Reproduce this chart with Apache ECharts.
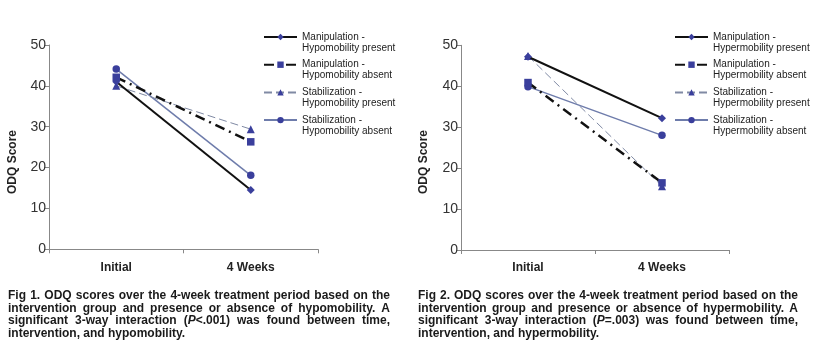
<!DOCTYPE html>
<html>
<head>
<meta charset="utf-8">
<script src="https://cdn.jsdelivr.net/npm/echarts@6/dist/echarts.min.js"></script>
<style>
html,body{margin:0;padding:0;background:#fff;}
#c{width:820px;height:351px;}
</style>
</head>
<body>
<div id="c"></div>
<script>
// ---------- data ----------
const categories = ['Initial', '4 Weeks'];
const yTicks = [0, 10, 20, 30, 40, 50];

const fig1Names = ['Manipulation -\nHypomobility present', 'Manipulation -\nHypomobility absent',
                   'Stabilization -\nHypomobility present', 'Stabilization -\nHypomobility absent'];
const fig1ManipPresent = [41.0, 14.5];
const fig1ManipAbsent  = [42.1, 26.3];
const fig1StabPresent  = [40.0, 29.4];
const fig1StabAbsent   = [44.1, 18.1];

const fig2Names = ['Manipulation -\nHypermobility present', 'Manipulation -\nHypermobility absent',
                   'Stabilization -\nHypermobility present', 'Stabilization -\nHypermobility absent'];
const fig2ManipPresent = [47.2, 32.2];
const fig2ManipAbsent  = [40.9, 16.4];
const fig2StabPresent  = [47.4, 15.6];
const fig2StabAbsent   = [39.9, 28.0];

const yAxisTitle = 'ODQ Score';

const caption1 = [
  'Fig 1. ODQ scores over the 4-week treatment period based on the',
  'intervention group and presence or absence of hypomobility. A',
  'significant 3-way interaction (*P*<.001) was found between time,',
  'intervention, and hypomobility.'
];
const caption2 = [
  'Fig 2. ODQ scores over the 4-week treatment period based on the',
  'intervention group and presence or absence of hypermobility. A',
  'significant 3-way interaction (*P*=.003) was found between time,',
  'intervention, and hypermobility.'
];

// ---------- styles ----------
const markerColor = '#3a3f9c';
const styles = [
  {symbol: 'diamond',  symbolSize: 8, line: {color: '#111', width: 2, type: 'solid'}},
  {symbol: 'rect',     symbolSize: 7.5, line: {color: '#111', width: 2.5, type: [10, 5, 2, 5]}},
  {symbol: 'triangle', symbolSize: 8, line: {color: '#808aa4', width: 1, type: [8, 4]}},
  {symbol: 'circle',   symbolSize: 7.5, line: {color: '#6e7cab', width: 1.5, type: 'solid'}}
];

function makeSeries(names, arrays, idx) {
  return arrays.map((d, i) => ({
    type: 'line', name: names[i], data: d,
    xAxisIndex: idx, yAxisIndex: idx,
    symbol: styles[i].symbol, symbolSize: styles[i].symbolSize,
    itemStyle: {color: markerColor},
    lineStyle: styles[i].line,
    z: 10 - i,
    animation: false
  }));
}

function xAxis(idx) {
  return {
    type: 'category', data: categories, gridIndex: idx,
    axisLine: {lineStyle: {color: '#888', width: 1}},
    axisTick: {show: true, length: 4, lineStyle: {color: '#888'}},
    axisLabel: {fontFamily: 'Liberation Sans', fontWeight: 'bold', fontSize: 12, color: '#222', margin: 12},
    splitLine: {show: false}
  };
}
function yAxis(idx) {
  return {
    type: 'value', min: yTicks[0], max: yTicks[yTicks.length - 1], interval: 10, gridIndex: idx,
    axisLine: {show: true, lineStyle: {color: '#888', width: 1}},
    axisTick: {show: true, length: 5, lineStyle: {color: '#888'}},
    axisLabel: {fontFamily: 'Liberation Sans', fontSize: 14, color: '#333', margin: 3},
    splitLine: {show: false}
  };
}
function legend(names, left) {
  return {
    data: names, orient: 'vertical', left: left, top: 20.5, padding: 0,
    itemWidth: 33, itemHeight: 8, itemGap: -5.3, selectedMode: false,
    formatter: name => '\n' + name,
    textStyle: {fontFamily: 'Liberation Sans', fontSize: 10, color: '#222', lineHeight: 11}
  };
}

// ---------- caption layout (justified) ----------
const ctx = document.createElement('canvas').getContext('2d');
const capFont = (it) => (it ? 'italic ' : '') + 'bold 12px "Liberation Sans"';
function measure(t, it) { ctx.font = capFont(it); return ctx.measureText(t).width; }
function captionGraphics(lines, x0, x1, y0, lh) {
  const els = [];
  lines.forEach((line, li) => {
    const words = line.split(' ').map(wd => {
      const segs = wd.split('*').map((t, k) => ({t, it: k % 2 === 1})).filter(s => s.t.length);
      const w = segs.reduce((a, s) => a + measure(s.t, s.it), 0);
      return {segs, w};
    });
    const total = words.reduce((a, w) => a + w.w, 0);
    const last = li === lines.length - 1;
    const gap = last ? measure(' ', false) : (x1 - x0 - total) / (words.length - 1);
    let x = x0;
    const y = y0 + li * lh;
    words.forEach(wd => {
      let sx = x;
      wd.segs.forEach(s => {
        els.push({type: 'text', x: sx, y: y, silent: true,
          style: {text: s.t, font: capFont(s.it), fill: '#1a1a1a', verticalAlign: 'middle', align: 'left'}});
        sx += measure(s.t, s.it);
      });
      x += wd.w + gap;
    });
  });
  return els;
}

const graphics = [
  {type: 'text', x: 13, y: 162, rotation: Math.PI / 2, silent: true,
   style: {text: yAxisTitle, font: 'bold 12px "Liberation Sans"', fill: '#222', align: 'center', verticalAlign: 'middle'}},
  {type: 'text', x: 424, y: 162, rotation: Math.PI / 2, silent: true,
   style: {text: yAxisTitle, font: 'bold 12px "Liberation Sans"', fill: '#222', align: 'center', verticalAlign: 'middle'}}
].concat(captionGraphics(caption1, 8, 390, 296, 12.5))
 .concat(captionGraphics(caption2, 418, 798, 296, 12.5));

const chart = echarts.init(document.getElementById('c'), null, {renderer: 'canvas'});
chart.setOption({
  backgroundColor: '#fff',
  animation: false,
  grid: [
    {left: 49, top: 45, width: 269, height: 204.3},
    {left: 461, top: 45.3, width: 268, height: 204.7}
  ],
  xAxis: [xAxis(0), xAxis(1)],
  yAxis: [yAxis(0), yAxis(1)],
  legend: [legend(fig1Names, 263), legend(fig2Names, 674)],
  series: makeSeries(fig1Names, [fig1ManipPresent, fig1ManipAbsent, fig1StabPresent, fig1StabAbsent], 0)
    .concat(makeSeries(fig2Names, [fig2ManipPresent, fig2ManipAbsent, fig2StabPresent, fig2StabAbsent], 1)),
  graphic: graphics
});
</script>
</body>
</html>
